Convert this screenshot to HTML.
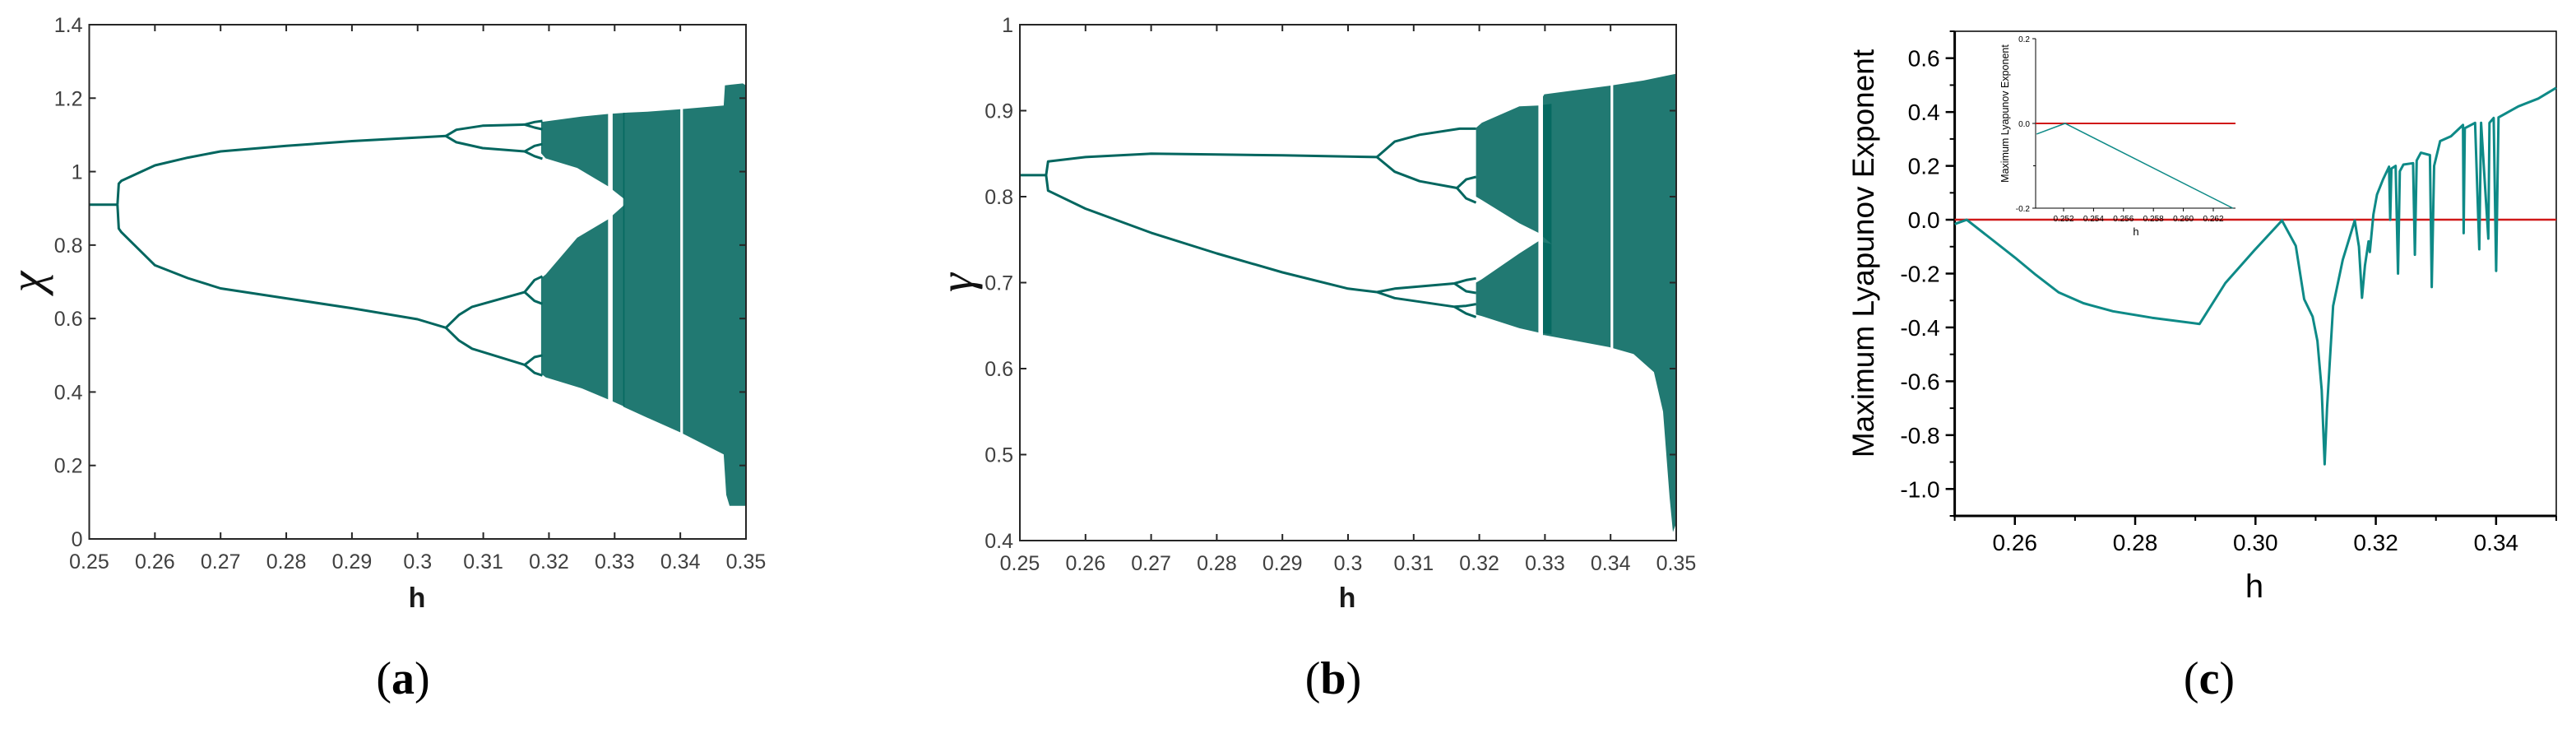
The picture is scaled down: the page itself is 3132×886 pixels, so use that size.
<!DOCTYPE html>
<html><head><meta charset="utf-8">
<style>
html,body{margin:0;padding:0;background:#fff;}
svg{display:block;}
</style></head>
<body>
<svg id="fig" width="3132" height="886" viewBox="0 0 3132 886" xmlns="http://www.w3.org/2000/svg" style="font-family:'Liberation Sans',sans-serif">
<g id="pa"></g>
<g id="pb"></g>
<g id="pc"></g>
<text x="490" y="843" style="font-family:'Liberation Serif',serif;font-size:56px" text-anchor="middle">(<tspan font-weight="bold">a</tspan>)</text>
<text x="1621" y="843" style="font-family:'Liberation Serif',serif;font-size:56px" text-anchor="middle">(<tspan font-weight="bold">b</tspan>)</text>
<text x="2686" y="843" style="font-family:'Liberation Serif',serif;font-size:56px" text-anchor="middle">(<tspan font-weight="bold">c</tspan>)</text>
</svg>
<script>
// ---------- shared axis data ----------
const hTicks = [0.25,0.26,0.27,0.28,0.29,0.30,0.31,0.32,0.33,0.34,0.35];
const hTickLabels = ["0.25","0.26","0.27","0.28","0.29","0.3","0.31","0.32","0.33","0.34","0.35"];

// ---------- panel a (chi) data ----------
const aYTicks = [0,0.2,0.4,0.6,0.8,1.0,1.2,1.4];
const aYTickLabels = ["0","0.2","0.4","0.6","0.8","1","1.2","1.4"];
const aFixed = [[0.25,0.91],[0.2543,0.91]];
const aUpper = [[0.2543,0.91],[0.2545,0.967],[0.2549,0.975],[0.26,1.017],[0.265,1.038],[0.27,1.055],[0.28,1.07],[0.29,1.083],[0.30,1.093],[0.3043,1.097]];
const aLower = [[0.2543,0.91],[0.2545,0.845],[0.2549,0.835],[0.26,0.745],[0.265,0.71],[0.27,0.682],[0.28,0.655],[0.29,0.628],[0.30,0.598],[0.3043,0.575]];
const aUU = [[0.3043,1.097],[0.3059,1.114],[0.3099,1.125],[0.3163,1.128],[0.3178,1.135],[0.319,1.138]];
const aUUb = [[0.3163,1.128],[0.3178,1.12],[0.319,1.115]];
const aUL = [[0.3043,1.097],[0.3059,1.08],[0.3099,1.064],[0.3163,1.055],[0.3178,1.07],[0.319,1.075]];
const aULb = [[0.3163,1.055],[0.3178,1.042],[0.319,1.035]];
const aLU = [[0.3043,0.575],[0.3063,0.61],[0.3083,0.632],[0.3163,0.672],[0.3178,0.705],[0.319,0.715]];
const aLUb = [[0.3163,0.672],[0.3178,0.648],[0.319,0.64]];
const aLL = [[0.3043,0.575],[0.3063,0.54],[0.3083,0.518],[0.3163,0.474],[0.3178,0.495],[0.319,0.5]];
const aLLb = [[0.3163,0.474],[0.3178,0.452],[0.319,0.445]];
const aUpBandTop = [[0.3188,1.135],[0.32,1.138],[0.325,1.15],[0.329,1.157],[0.3315,1.16]];
const aUpBandBot = [[0.3188,1.05],[0.3195,1.036],[0.3243,1.01],[0.329,0.96],[0.3315,0.925]];
const aLoBandTop = [[0.3188,0.71],[0.3195,0.72],[0.3243,0.82],[0.329,0.87],[0.3315,0.91]];
const aLoBandBot = [[0.3188,0.45],[0.3195,0.44],[0.325,0.41],[0.329,0.38],[0.3315,0.36]];
const aMergedTop = [[0.3313,1.16],[0.335,1.163],[0.34,1.17],[0.3466,1.18],[0.3468,1.235],[0.3495,1.24],[0.35,1.235]];
const aMergedBot = [[0.3313,0.36],[0.335,0.33],[0.34,0.29],[0.3466,0.23],[0.347,0.12],[0.3475,0.09],[0.35,0.09]];
const aWindows = [[0.3290,0.3297],[0.3400,0.3404]];

// ---------- panel b (gamma) data ----------
const bYTicks = [0.4,0.5,0.6,0.7,0.8,0.9,1.0];
const bYTickLabels = ["0.4","0.5","0.6","0.7","0.8","0.9","1"];
const bFixed = [[0.25,0.825],[0.2540,0.825]];
const bUpper = [[0.2540,0.825],[0.2543,0.841],[0.26,0.846],[0.27,0.85],[0.28,0.849],[0.29,0.848],[0.3044,0.846]];
const bLower = [[0.2540,0.825],[0.2543,0.807],[0.26,0.786],[0.27,0.758],[0.28,0.734],[0.29,0.712],[0.30,0.693],[0.3044,0.689]];
const bUU = [[0.3044,0.846],[0.3071,0.864],[0.3109,0.872],[0.317,0.879],[0.3195,0.879]];
const bUL = [[0.3044,0.846],[0.3071,0.829],[0.3109,0.818],[0.3166,0.81],[0.318,0.82],[0.3195,0.823]];
const bULb = [[0.3166,0.81],[0.318,0.798],[0.3195,0.793]];
const bLU = [[0.3044,0.689],[0.3071,0.693],[0.3162,0.699],[0.318,0.703],[0.3195,0.705]];
const bLUb = [[0.3162,0.699],[0.318,0.69],[0.3195,0.688]];
const bLL = [[0.3044,0.689],[0.3071,0.682],[0.3162,0.672],[0.318,0.673],[0.3195,0.675]];
const bLLb = [[0.3162,0.672],[0.318,0.664],[0.3195,0.66]];
const bUpBandTop = [[0.3195,0.88],[0.3204,0.886],[0.3261,0.905],[0.329,0.906],[0.331,0.908]];
const bUpBandBot = [[0.3195,0.8],[0.3204,0.796],[0.3261,0.769],[0.329,0.758],[0.331,0.745]];
const bLoBandTop = [[0.3195,0.7],[0.3204,0.704],[0.3261,0.734],[0.329,0.748],[0.331,0.745]];
const bLoBandBot = [[0.3195,0.663],[0.3204,0.661],[0.3261,0.647],[0.329,0.642],[0.331,0.64]];
const bMergedTop = [[0.3296,0.915],[0.3299,0.919],[0.3398,0.929],[0.345,0.935],[0.35,0.943]];
const bMergedBot = [[0.3296,0.639],[0.3299,0.639],[0.3398,0.625],[0.3435,0.617],[0.3466,0.596],[0.348,0.55],[0.349,0.45],[0.3495,0.41],[0.35,0.42]];
const bWindows = [[0.3290,0.3297],[0.3400,0.3404]];

// ---------- panel c (Lyapunov) data ----------
const cYTicks = [0.6,0.4,0.2,0.0,-0.2,-0.4,-0.6,-0.8,-1.0];
const cYTickLabels = ["0.6","0.4","0.2","0.0","-0.2","-0.4","-0.6","-0.8","-1.0"];
const cYMinor = [0.7,0.5,0.3,0.1,-0.1,-0.3,-0.5,-0.7,-0.9,-1.1];
const cXTicks = [0.26,0.28,0.30,0.32,0.34];
const cXTickLabels = ["0.26","0.28","0.30","0.32","0.34"];
const cXMinor = [0.25,0.27,0.29,0.31,0.33,0.35];
const cLyap = [[0.25,-0.016],[0.252,0],[0.256,-0.07],[0.26,-0.14],[0.2635,-0.205],[0.2673,-0.27],[0.2714,-0.31],[0.2763,-0.34],[0.2828,-0.364],[0.2907,-0.387],[0.295,-0.235],[0.2998,-0.114],[0.3044,-0.003],[0.3067,-0.097],[0.3081,-0.295],[0.3095,-0.36],[0.3103,-0.45],[0.311,-0.632],[0.3115,-0.908],[0.3119,-0.70],[0.3129,-0.32],[0.3145,-0.149],[0.3165,-0.003],[0.3172,-0.1],[0.3177,-0.29],[0.3182,-0.17],[0.3188,-0.08],[0.319,-0.12],[0.3196,0.02],[0.3202,0.093],[0.3212,0.15],[0.3222,0.197],[0.3224,0.0],[0.3226,0.19],[0.3233,0.2],[0.3237,-0.2],[0.3240,0.18],[0.3246,0.205],[0.3262,0.21],[0.3265,-0.13],[0.3268,0.22],[0.3275,0.249],[0.329,0.24],[0.3293,-0.25],[0.3297,0.2],[0.3307,0.292],[0.3325,0.31],[0.3345,0.352],[0.3346,-0.05],[0.3348,0.34],[0.3365,0.36],[0.3372,-0.11],[0.3375,0.36],[0.3387,-0.07],[0.3389,0.36],[0.3396,0.378],[0.3400,-0.19],[0.3404,0.38],[0.342,0.4],[0.3437,0.421],[0.347,0.45],[0.35,0.49]];
const cZeroLine = [0.0];
const iXTicks = [0.252,0.254,0.256,0.258,0.260,0.262];
const iXTickLabels = ["0.252","0.254","0.256","0.258","0.260","0.262"];
const iYTicks = [0.2,0.0,-0.2];
const iYTickLabels = ["0.2","0.0","-0.2"];
const iLyap = [[0.2502,-0.025],[0.2521,0],[0.2633,-0.2]];

const NS = "http://www.w3.org/2000/svg";
function mk(tag, parent, attrs){const e=document.createElementNS(NS,tag);for(const k in attrs)e.setAttribute(k,attrs[k]);parent.appendChild(e);return e;}
const TEAL = "#02665f";

function bifPanel(g, L, R, T, B, yMin, yMax, yTicks, yLabels, branches, bands, windows, ylab, ylabX, hX){
  const sx = h => L + (h-0.25)/(0.1)*(R-L);
  const sy = v => B - (v-yMin)/(yMax-yMin)*(B-T);
  const ptsStr = a => a.map(p=>sx(p[0]).toFixed(1)+","+sy(p[1]).toFixed(1)).join(" ");
  bands.forEach(bd=>{
    const poly = bd[0].concat(bd[1].slice().reverse());
    const e = mk("polygon", g, {points:ptsStr(poly), fill:TEAL, "fill-opacity":"0.88"});
    
    
  });
  windows.forEach(w=>{
    const e = mk("rect", g, {x:sx(w[0]), y:T+1, width:Math.max(2,sx(w[1])-sx(w[0])), height:B-T-2, fill:"#fff"});
    
    
  });
  branches.forEach(br=>{
    const e = mk("polyline", g, {points:ptsStr(br), fill:"none", stroke:TEAL, "stroke-width":"3", "stroke-linejoin":"round"});
    
    
  });
  const box = mk("rect", g, {x:L, y:T, width:R-L, height:B-T, fill:"none", stroke:"#262626", "stroke-width":"2"});
  
  
  hTicks.forEach((h,i)=>{
    const x = sx(h);
    mk("line", g, {x1:x, x2:x, y1:B, y2:B-8, stroke:"#262626", "stroke-width":"2"});
    mk("line", g, {x1:x, x2:x, y1:T, y2:T+8, stroke:"#262626", "stroke-width":"2"});
    const t = mk("text", g, {x:x, y:B+36, "font-size":"25", fill:"#404040", "text-anchor":"middle"});
    t.textContent = hTickLabels[i];
    
    
  });
  yTicks.forEach((v,i)=>{
    const y = sy(v);
    mk("line", g, {x1:L, x2:L+8, y1:y, y2:y, stroke:"#262626", "stroke-width":"2"});
    mk("line", g, {x1:R, x2:R-8, y1:y, y2:y, stroke:"#262626", "stroke-width":"2"});
    const t = mk("text", g, {x:L-8, y:y+9, "font-size":"25", fill:"#404040", "text-anchor":"end"});
    t.textContent = yLabels[i];
    
    
  });
  const xt = mk("text", g, {x:hX, y:738, "font-size":"34", "font-weight":"bold", fill:"#1a1a1a", "text-anchor":"middle"});
  xt.textContent = "h";
  
  
  const yt = mk("text", g, {x:ylabX, y:(T+B)/2+12, style:"font-family:'Liberation Serif',serif;font-size:58px;font-style:italic", fill:"#111", "text-anchor":"middle", transform:"rotate(-90 "+ylabX+" "+((T+B)/2)+")"});
  yt.textContent = ylab;
  
  
}

bifPanel(document.getElementById("pa"), 108.5, 907, 30, 655, 0, 1.4, aYTicks, aYTickLabels,
  [aFixed,aUpper,aLower,aUU,aUUb,aUL,aULb,aLU,aLUb,aLL,aLLb],
  [[aUpBandTop,aUpBandBot],[aLoBandTop,aLoBandBot],[aMergedTop,aMergedBot]],
  aWindows, "\u03C7", 40, 507);
bifPanel(document.getElementById("pb"), 1240, 2038, 30, 657, 0.4, 1.0, bYTicks, bYTickLabels,
  [bFixed,bUpper,bLower,bUU,bUL,bULb,bLU,bLUb,bLL,bLLb],
  [[bUpBandTop,bUpBandBot],[bLoBandTop,bLoBandBot],[bMergedTop,bMergedBot]],
  bWindows, "\u03B3", 1170, 1638);

// ---------- panel c ----------
(function(){
  const g = document.getElementById("pc");
  const L=2376.6, R=3108, T=38, B=627, yMin=-1.1, yMax=0.7;
  const sx = h => L + (h-0.25)/0.1*(R-L);
  const sy = v => B - (v-yMin)/(yMax-yMin)*(B-T);
  const f = mk("rect", g, {x:L, y:T, width:R-L, height:B-T, fill:"none", stroke:"#000", "stroke-width":"1.5"});
  
  
  mk("line", g, {x1:L, x2:L, y1:T, y2:B+1.5, stroke:"#000", "stroke-width":"3"});
  mk("line", g, {x1:L-1.5, x2:R, y1:B, y2:B, stroke:"#000", "stroke-width":"3"});
  cYTicks.forEach((v,i)=>{
    const y=sy(v);
    mk("line", g, {x1:L-11, x2:L, y1:y, y2:y, stroke:"#000", "stroke-width":"2.5"});
    const t = mk("text", g, {x:L-18, y:y+10, "font-size":"28", fill:"#000", "text-anchor":"end"});
    t.textContent = cYTickLabels[i];
    
    
  });
  cYMinor.forEach(v=>{const y=sy(v); mk("line", g, {x1:L-6, x2:L, y1:y, y2:y, stroke:"#000", "stroke-width":"2"});});
  cXTicks.forEach((h,i)=>{
    const x=sx(h);
    mk("line", g, {x1:x, x2:x, y1:B, y2:B+11, stroke:"#000", "stroke-width":"2.5"});
    const t = mk("text", g, {x:x, y:B+42, "font-size":"28", fill:"#000", "text-anchor":"middle"});
    t.textContent = cXTickLabels[i];
    
    
  });
  cXMinor.forEach(h=>{const x=sx(h); mk("line", g, {x1:x, x2:x, y1:B, y2:B+6, stroke:"#000", "stroke-width":"2"});});
  cZeroLine.forEach(v=>{
    const z = mk("line", g, {x1:L, x2:R, y1:sy(v), y2:sy(v), stroke:"#d01818", "stroke-width":"2.5"});
    
    
  });
  const line = mk("polyline", g, {points:cLyap.map(p=>sx(p[0]).toFixed(1)+","+sy(p[1]).toFixed(1)).join(" "), fill:"none", stroke:"#0e8a87", "stroke-width":"3", "stroke-linejoin":"round"});
  
  
  const xt = mk("text", g, {x:2741, y:726, "font-size":"40", fill:"#000", "text-anchor":"middle"});
  xt.textContent = "h";
  
  
  const yt = mk("text", g, {x:2278, y:308, "font-size":"37", fill:"#000", "text-anchor":"middle", transform:"rotate(-90 2278 308)"});
  yt.textContent = "Maximum  Lyapunov Exponent";
  
  

  const ig = mk("g", g, {});
  
  
  const ix = h => 2509 + (h-0.252)*18200;
  const iy = v => 150 - v*515;
  mk("line", ig, {x1:2475, x2:2475, y1:iy(0.2), y2:iy(-0.2), stroke:"#000", "stroke-width":"1"});
  mk("line", ig, {x1:2475, x2:2718, y1:iy(-0.2), y2:iy(-0.2), stroke:"#000", "stroke-width":"1"});
  iYTicks.forEach((v,i)=>{
    mk("line", ig, {x1:2471, x2:2475, y1:iy(v), y2:iy(v), stroke:"#000", "stroke-width":"1"});
    const t = mk("text", ig, {x:2468, y:iy(v)+4, "font-size":"10", fill:"#000", "text-anchor":"end"});
    t.textContent = iYTickLabels[i];
    
    
  });
  mk("line", ig, {x1:2472, x2:2475, y1:iy(-0.1), y2:iy(-0.1), stroke:"#000", "stroke-width":"1"});
  iXTicks.forEach((h,i)=>{
    mk("line", ig, {x1:ix(h), x2:ix(h), y1:iy(-0.2), y2:iy(-0.2)+4, stroke:"#000", "stroke-width":"1"});
    const t = mk("text", ig, {x:ix(h), y:iy(-0.2)+16, "font-size":"10", fill:"#000", "text-anchor":"middle"});
    t.textContent = iXTickLabels[i];
    
    
  });
  const ir = mk("line", ig, {x1:2475, x2:2718, y1:iy(0), y2:iy(0), stroke:"#d01818", "stroke-width":"2"});
  
  
  const il = mk("polyline", ig, {points:iLyap.map(p=>ix(p[0]).toFixed(1)+","+iy(p[1]).toFixed(1)).join(" "), fill:"none", stroke:"#0e8a87", "stroke-width":"1.5"});
  
  
  const ixl = mk("text", ig, {x:2597, y:286, "font-size":"13", fill:"#000", "text-anchor":"middle"});
  ixl.textContent = "h";
  
  
  const iyl = mk("text", ig, {x:2442, y:138, "font-size":"12.5", fill:"#000", "text-anchor":"middle", transform:"rotate(-90 2442 138)"});
  iyl.textContent = "Maximum  Lyapunov Exponent";
  
  
})();
</script>
</body></html>
